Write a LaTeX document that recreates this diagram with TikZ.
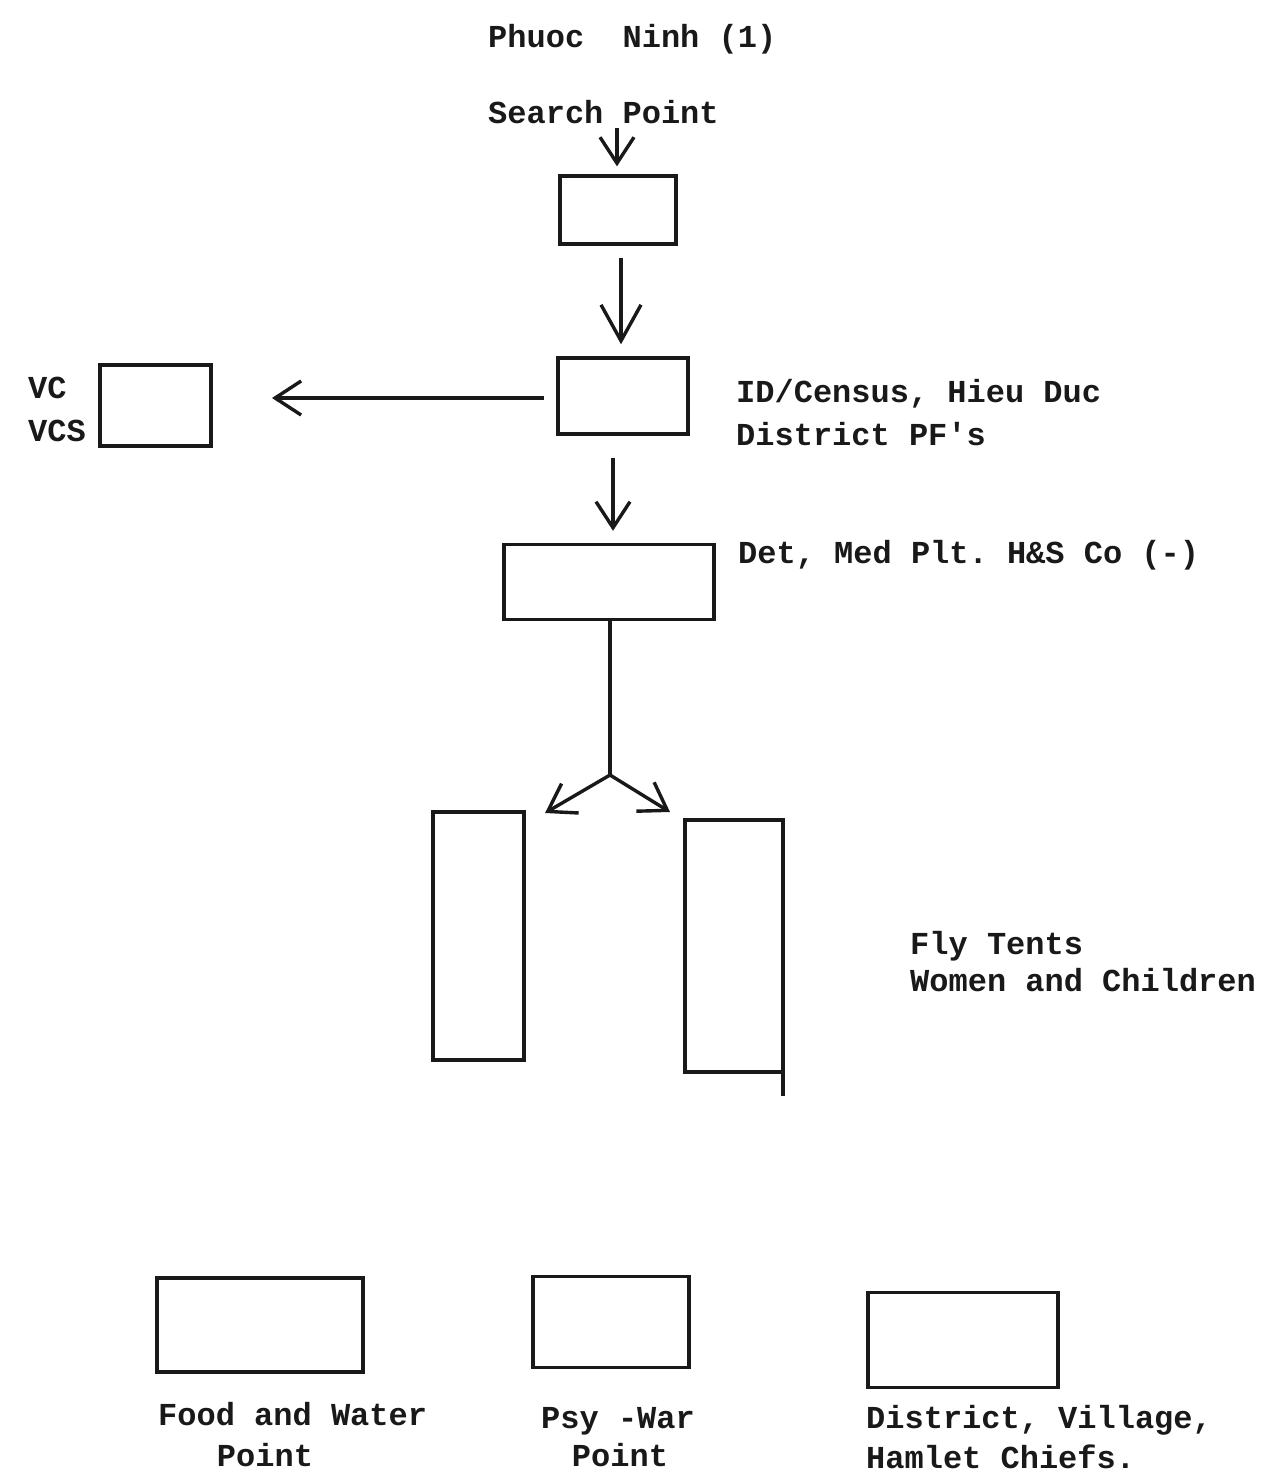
\documentclass[tikz,border=0pt]{standalone}
\usepackage{fontspec}
\setmonofont{Liberation Mono}
\usetikzlibrary{arrows.meta}
\begin{document}
\begin{tikzpicture}[x=1pt,y=-1pt,
  ink/.style={line width=3.4pt,black!90},
  boxnode/.style={ink,draw,inner sep=0pt,rectangle},
  txt/.style={font=\ttfamily\bfseries\fontsize{32}{42}\selectfont,inner sep=0pt,anchor=base west,text=black!90},
  barb/.style={ink,-{Straight Barb[length=26pt,width=34pt,line width=3.4pt]}},
  bigbarb/.style={ink,-{Straight Barb[length=36pt,width=40pt,line width=3.4pt]}}
]
\useasboundingbox (0,0) rectangle (1261,1476);
% title
\node[txt] (title) at (488,47) {Phuoc\ \ Ninh (1)};
\node[txt] (search) at (488,123) {Search Point};
% boxes
\node[boxnode,minimum width=116pt,minimum height=68pt] (b1) at (618,210) {};
\node[boxnode,minimum width=130pt,minimum height=76pt] (b2) at (623,396) {};
\node[boxnode,minimum width=111pt,minimum height=81pt] (vc) at (155.5,405.5) {};
\node[boxnode,minimum width=210pt,minimum height=75pt] (b3) at (609,582) {};
\node[boxnode,minimum width=91pt,minimum height=248pt] (tl) at (478.5,936) {};
\node[boxnode,minimum width=98pt,minimum height=252pt] (tr) at (734,946) {};
\node[boxnode,minimum width=206pt,minimum height=94pt] (food) at (260,1325) {};
\node[boxnode,minimum width=156pt,minimum height=91pt] (psy) at (611,1322) {};
\node[boxnode,minimum width=190pt,minimum height=95pt] (dist) at (963,1340) {};
% labels
\node[txt] (idc) at (736,402) {ID/Census, Hieu Duc};
\node[txt] (idd) at (736,445) {District PF's};
\node[txt] (vct) at (28,398) {VC};
\node[txt] (vcs) at (28,441) {VCS};
\node[txt] (det) at (738,563) {Det, Med Plt. H\&S Co (-)};
\node[txt] (fly) at (910,954) {Fly Tents};
\node[txt] (wom) at (910,991) {Women and Children};
\node[txt] (fw) at (158,1425) {Food and Water};
\node[txt,anchor=base] (fwp) at (265,1466) {Point};
\node[txt] (pw) at (541,1428) {Psy -War};
\node[txt,anchor=base] (pwp) at (620,1466) {Point};
\node[txt] (dv) at (866,1428) {District, Village,};
\node[txt] (hc) at (866,1468) {Hamlet Chiefs.};
% connectors
\coordinate (sp) at (617,128);
\draw[barb,shorten >=8pt] (sp) -- (sp |- b1.north);
\coordinate (a2) at (621,258);
\draw[bigbarb,shorten >=12pt] (a2) -- (a2 |- b2.north);
\coordinate (vcs0) at (544,398);
\coordinate (vce) at (272,398);
\draw[barb] (vcs0) -- (vce);
\coordinate (a3) at (613,458);
\draw[barb,shorten >=12pt] (a3) -- (a3 |- b3.north);
\coordinate (split) at (610,775);
\draw[ink] (split |- b3.south) -- (split);
\draw[barb] (split) -- (545,813);
\draw[barb] (split) -- (670,812);
\coordinate (tail) at ([xshift=-1.7pt]tr.south east);
\draw[ink] (tail) -- ++(0,22);
\end{tikzpicture}
\end{document}
